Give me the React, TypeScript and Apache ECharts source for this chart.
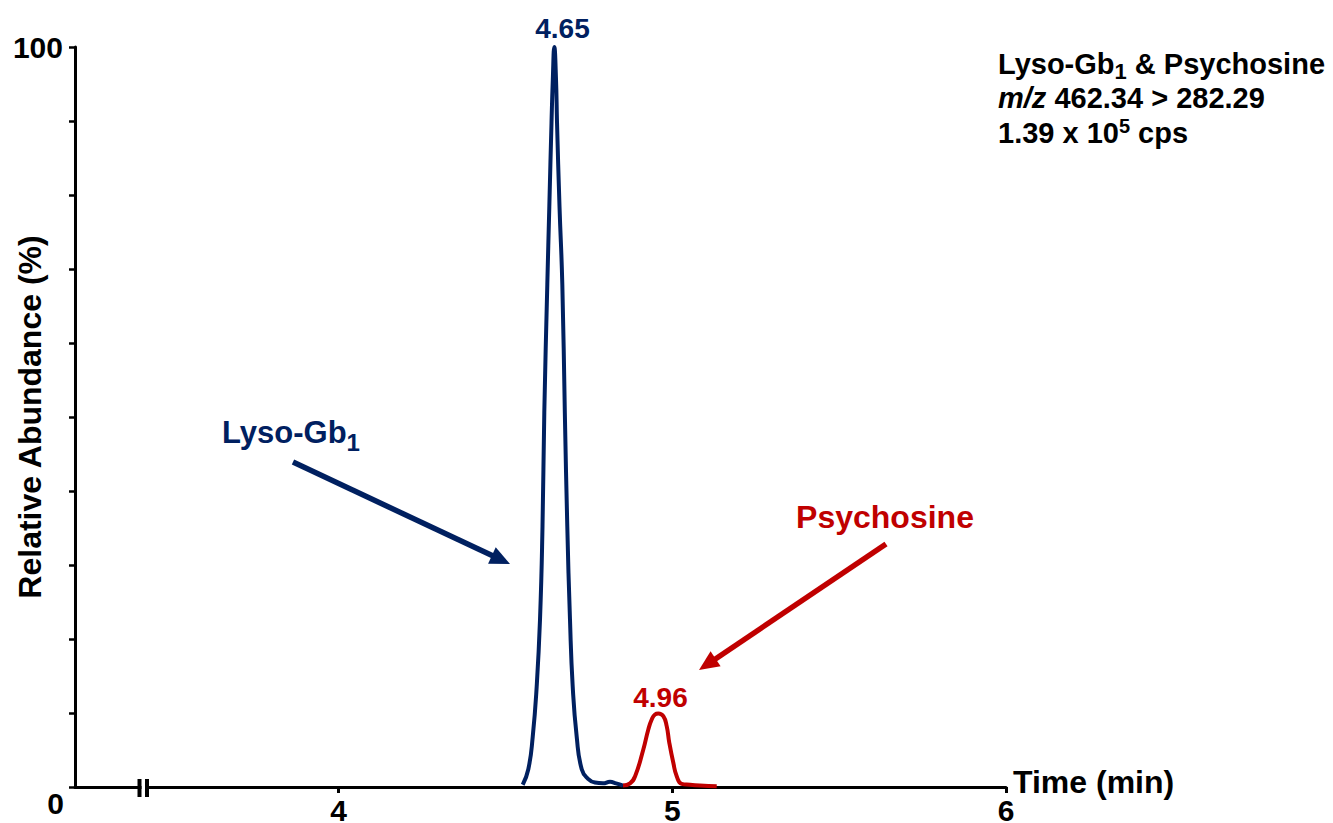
import React, { useEffect, useRef } from 'react';
import * as echarts from 'echarts';

// ---- Data ----
const lysoTime = [
  4.5517, 4.5685, 4.5817, 4.5936, 4.6035, 4.611, 4.6164, 4.6254, 4.6314, 4.638, 4.6419, 4.6464,
  4.6515, 4.6545, 4.662, 4.6704, 4.6779, 4.6853, 4.6934, 4.7015, 4.7135, 4.7285, 4.7474, 4.7683,
  4.7923, 4.8133, 4.8313, 4.8523,
];
const lysoAbundance = [
  0.3, 2.4, 6.8, 13.6, 22.6, 35.2, 50.6, 67.9, 78.4, 89.8, 95.6, 100,
  95.6, 89.8, 78.4, 67.9, 50.6, 35.2, 22.6, 13.6, 6.8, 2.4, 1.1, 0.6,
  0.5, 0.7, 0.5, 0.2,
];
const psyTime = [
  4.8523, 4.8733, 4.8885, 4.9131, 4.9281, 4.9383, 4.9482, 4.958, 4.973, 4.9832, 4.991, 5.003,
  5.0132, 5.0282, 5.053, 5.083, 5.1331,
];
const psyAbundance = [
  0.2, 0.5, 1.46, 5.07, 7.77, 9.12, 9.8, 9.93, 9.57, 8.22, 5.97, 3.27,
  1.46, 0.43, 0.3, 0.2, 0.1,
];
const xTickValues = [4, 5, 6];
const yLabelValues = [100];
const originLabel = '0';
const xAxisTitle = 'Time (min)';
const yAxisTitle = 'Relative Abundance (%)';
const xMin = 3.21;
const xMax = 6;
const peakLabels = ['4.65', '4.96'];

const BLUE = '#002060';
const RED = '#C00000';
const FONT = '"Liberation Sans", Arial, Helvetica, sans-serif';

function arrow(x1: number, y1: number, x2: number, y2: number, color: string, width: number, headLen: number, headHalf: number) {
  const dx = x2 - x1;
  const dy = y2 - y1;
  const L = Math.hypot(dx, dy);
  const ux = dx / L;
  const uy = dy / L;
  const bx = x2 - ux * headLen;
  const by = y2 - uy * headLen;
  return [
    {
      type: 'line',
      z: 20,
      shape: { x1, y1, x2: bx + ux * 2, y2: by + uy * 2 },
      style: { stroke: color, lineWidth: width },
    },
    {
      type: 'polygon',
      z: 20,
      shape: {
        points: [
          [x2, y2],
          [bx - uy * headHalf, by + ux * headHalf],
          [bx + uy * headHalf, by - ux * headHalf],
        ],
      },
      style: { fill: color },
    },
  ];
}

export default function App() {
  const ref = useRef<HTMLDivElement>(null);
  useEffect(() => {
    if (!ref.current) return;
    const chart = echarts.init(ref.current, undefined, { renderer: 'svg' });
    const bold = { fontWeight: 'bold', fontFamily: FONT };
    const option: any = {
      animation: false,
      backgroundColor: '#ffffff',
      textStyle: { fontFamily: FONT },
      grid: { left: 75, top: 47, width: 931, height: 740, containLabel: false, outerBoundsMode: 'none' },
      xAxis: {
        type: 'value',
        min: xMin,
        max: xMax,
        axisLine: { show: true, onZero: false, lineStyle: { color: '#000', width: 3 } },
        axisTick: { show: true, customValues: xTickValues, length: 6, lineStyle: { color: '#000', width: 3 } },
        axisLabel: {
          customValues: xTickValues,
          formatter: (v: number) => String(Math.round(v)),
          fontSize: 30,
          lineHeight: 22,
          color: '#000',
          margin: 12,
          ...bold,
        },
        splitLine: { show: false },
      },
      yAxis: {
        type: 'value',
        min: 0,
        max: 100,
        interval: 10,
        axisLine: { show: true, lineStyle: { color: '#000', width: 3 } },
        axisTick: { show: true, length: 6, lineStyle: { color: '#000', width: 2.5 } },
        axisLabel: { customValues: yLabelValues, fontSize: 30, color: '#000', margin: 12, ...bold },
        splitLine: { show: false },
        name: yAxisTitle,
        nameLocation: 'middle',
        nameGap: 29,
        nameRotate: 90,
        nameMoveOverlap: false,
        nameTextStyle: { fontSize: 32, color: '#000', ...bold },
      },
      series: [
        {
          type: 'line',
          name: 'Lyso-Gb1',
          data: lysoTime.map((t, i) => [t, lysoAbundance[i]]),
          showSymbol: false,
          smooth: 0.5,
          clip: false,
          lineStyle: { color: BLUE, width: 4 },
          itemStyle: { color: BLUE },
          z: 3,
        },
        {
          type: 'line',
          name: 'Psychosine',
          data: psyTime.map((t, i) => [t, psyAbundance[i]]),
          showSymbol: false,
          smooth: 0.5,
          clip: false,
          lineStyle: { color: RED, width: 4 },
          itemStyle: { color: RED },
          z: 3,
        },
      ],
      graphic: [
        // axis break
        { type: 'rect', z: 30, shape: { x: 141.5, y: 784, width: 3.5, height: 7 }, style: { fill: '#fff' } },
        { type: 'line', z: 31, shape: { x1: 139.5, y1: 779, x2: 139.5, y2: 797 }, style: { stroke: '#000', lineWidth: 4 } },
        { type: 'line', z: 31, shape: { x1: 147, y1: 779, x2: 147, y2: 797 }, style: { stroke: '#000', lineWidth: 4 } },
        // origin label
        {
          type: 'text', z: 30, x: 55.5, y: 803,
          style: { text: originLabel, fill: '#000', fontSize: 30, align: 'center', verticalAlign: 'middle', ...bold },
        },
        // x axis title
        {
          type: 'text', z: 30, x: 1013, y: 782,
          style: { text: xAxisTitle, fill: '#000', fontSize: 32, lineHeight: 32, align: 'left', verticalAlign: 'middle', ...bold },
        },
        // peak labels
        {
          type: 'text', z: 30, x: 562.5, y: 28,
          style: { text: peakLabels[0], fill: BLUE, fontSize: 28, align: 'center', verticalAlign: 'middle', ...bold },
        },
        {
          type: 'text', z: 30, x: 660.5, y: 697,
          style: { text: peakLabels[1], fill: RED, fontSize: 28, align: 'center', verticalAlign: 'middle', ...bold },
        },
        // compound annotations
        {
          type: 'text', z: 30, x: 222, y: 432,
          style: {
            text: '{m|Lyso-Gb}{s|1}',
            align: 'left',
            verticalAlign: 'middle',
            rich: {
              m: { fill: BLUE, fontSize: 31, lineHeight: 44, ...bold },
              s: { fill: BLUE, fontSize: 24, lineHeight: 16, verticalAlign: 'bottom', ...bold },
            },
          },
        },
        {
          type: 'text', z: 30, x: 885, y: 517,
          style: { text: 'Psychosine', fill: RED, fontSize: 32, align: 'center', verticalAlign: 'middle', ...bold },
        },
        ...arrow(293, 462, 510, 564, BLUE, 5.5, 20, 9),
        ...arrow(886, 544, 699, 670, RED, 5.5, 20, 9),
        // info block
        {
          type: 'text', z: 30, x: 998, y: 64,
          style: {
            text: '{m|Lyso-Gb}{s|1}{m| & Psychosine}',
            align: 'left',
            verticalAlign: 'middle',
            rich: {
              m: { fill: '#000', fontSize: 29, lineHeight: 36, ...bold },
              s: { fill: '#000', fontSize: 22, lineHeight: 12, verticalAlign: 'bottom', ...bold },
            },
          },
        },
        {
          type: 'text', z: 30, x: 998, y: 98,
          style: {
            text: '{i|m/z}{m| 462.34 > 282.29}',
            align: 'left',
            verticalAlign: 'middle',
            rich: {
              i: { fill: '#000', fontSize: 29, lineHeight: 30, fontStyle: 'italic', ...bold },
              m: { fill: '#000', fontSize: 29, lineHeight: 30, ...bold },
            },
          },
        },
        {
          type: 'text', z: 30, x: 998, y: 133,
          style: {
            text: '{m|1.39 x 10}{p|5}{m| cps}',
            align: 'left',
            verticalAlign: 'middle',
            rich: {
              m: { fill: '#000', fontSize: 29, lineHeight: 34, ...bold },
              p: { fill: '#000', fontSize: 20, lineHeight: 18, verticalAlign: 'top', ...bold },
            },
          },
        },
      ],
    };
    chart.setOption(option);
    return () => chart.dispose();
  }, []);
  return (
    <div
      ref={ref}
      style={{ position: 'fixed', left: 0, top: 0, width: 1333, height: 823, background: '#fff' }}
    />
  );
}
